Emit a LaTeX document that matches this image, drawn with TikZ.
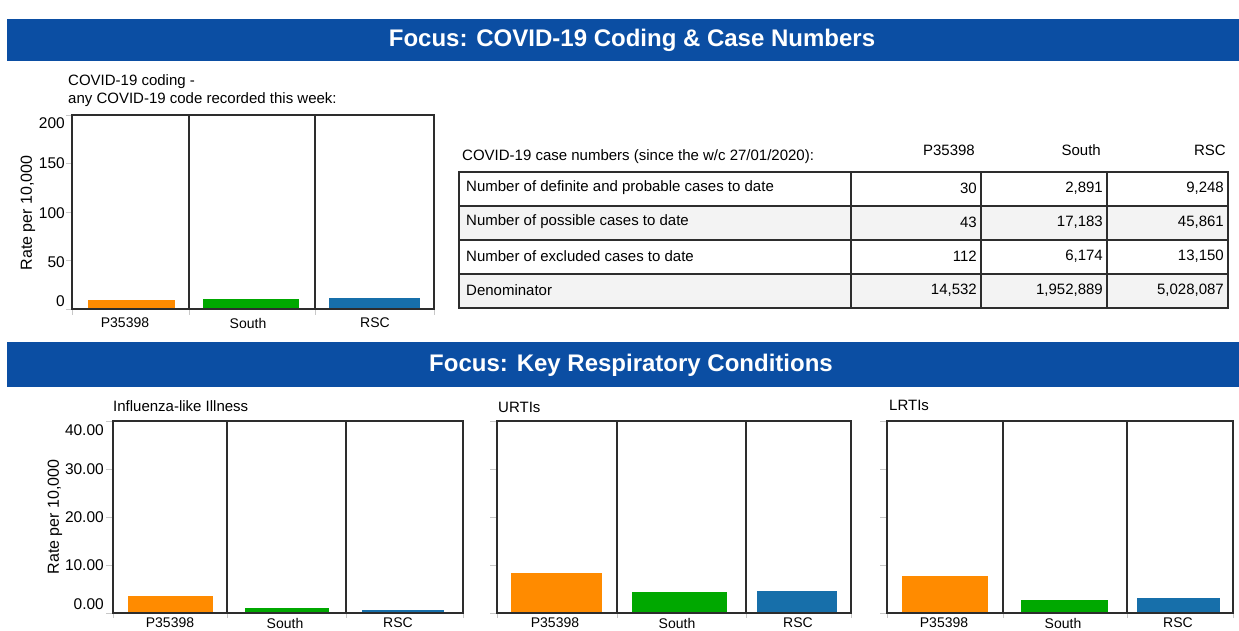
\documentclass[tikz,border=0pt]{standalone}
\usepackage{fontspec}
\setmainfont{Liberation Sans}
\definecolor{bannerblue}{RGB}{11,78,163}
\definecolor{barorange}{RGB}{255,139,0}
\definecolor{bargreen}{RGB}{0,168,0}
\definecolor{barblue}{RGB}{23,111,170}
\definecolor{framegray}{RGB}{45,45,45}
\definecolor{tickgray}{RGB}{200,200,200}
\definecolor{rowshade}{RGB}{243,243,243}
\newcommand\px[1]{\fontsize{#1}{#1}\selectfont}
\tikzset{
  banner/.style={fill=bannerblue},
  bantitle/.style={text=white, inner sep=0pt, font=\px{24}\bfseries},
  plotframe/.style={draw=framegray, line width=1.3pt},
  axtick/.style={draw=tickgray, line width=0.8pt},
  txt/.style={inner sep=0pt, font=\px{15}},
  ticklab/.style={inner sep=0pt, anchor=east, font=\px{15.5}},
  catlab/.style={inner sep=0pt, font=\px{14}},
  axtitle/.style={inner sep=0pt, rotate=90, font=\px{16}},
  tabline/.style={draw=framegray, line width=1.4pt},
  numcell/.style={inner sep=0pt, anchor=east, font=\px{15}}
}
\begin{document}
\begin{tikzpicture}[x=1pt,y=-1pt]
\useasboundingbox (0,0) rectangle (1239,630);

% ---------- section banners ----------
\fill[banner] (7,19) rectangle (1239,61);
\node[bantitle] (ban1) at (632,40) {Focus: COVID-19 Coding \& Case Numbers};
\fill[banner] (7,342) rectangle (1239,387);
\node[bantitle] (ban2) at (631,365) {Focus: Key Respiratory Conditions};

% ---------- COVID-19 coding chart ----------
\node[txt, anchor=west] (c1t1) at (68,82) {COVID-19 coding -};
\node[txt, anchor=west] (c1t2) at (68,100) {any COVID-19 code recorded this week:};
\foreach \y in {115,163.5,212,260.5,309} \draw[axtick] (66,\y) -- (72,\y);
\foreach \x in {72,189,315,434} \draw[axtick] (\x,309) -- (\x,315);
\fill[barorange] (88,300) rectangle (175,309);
\fill[bargreen] (203,299) rectangle (299,309);
\fill[barblue] (329,298) rectangle (420,309);
\draw[plotframe] (72,115) rectangle (434,309);
\draw[plotframe] (189,115) -- (189,309);
\draw[plotframe] (315,115) -- (315,309);
\node[ticklab] (c1y200) at (65,123) {200};
\node[ticklab] (c1y150) at (65,163) {150};
\node[ticklab] (c1y100) at (65,213) {100};
\node[ticklab] (c1y50) at (65,262) {50};
\node[ticklab] (c1y0) at (65,301) {0};
\node[axtitle] (c1ax) at (28,213) {Rate per 10,000};
\node[catlab] (c1a) at (125,323) {P35398};
\node[catlab] (c1b) at (248,323) {South};
\node[catlab] (c1c) at (375,323) {RSC};

% ---------- case numbers table ----------
\node[txt, anchor=west] (tabhead) at (462,157) {COVID-19 case numbers (since the w/c 27/01/2020):};
\node[txt, anchor=east] (colA) at (975,150) {P35398};
\node[txt, anchor=east] (colB) at (1101,150) {South};
\node[txt, anchor=east] (colC) at (1226,150) {RSC};
\fill[rowshade] (459,206) rectangle (1228,240);
\fill[rowshade] (459,274) rectangle (1228,308);
\draw[tabline] (459,172) rectangle (1228,308);
\foreach \y in {206,240,274} \draw[tabline] (459,\y) -- (1228,\y);
\foreach \x in {851,981,1107} \draw[tabline] (\x,172) -- (\x,308);
\node[txt, anchor=west] (r1) at (466,188) {Number of definite and probable cases to date};
\node[txt, anchor=west] (r2) at (466,222) {Number of possible cases to date};
\node[txt, anchor=west] (r3) at (466,256) {Number of excluded cases to date};
\node[txt, anchor=west] (r4) at (466,290) {Denominator};
\node[numcell] (r1a) at (977,188) {30};
\node[numcell] (r1b) at (1103,188) {2,891};
\node[numcell] (r1c) at (1224,188) {9,248};
\node[numcell] (r2a) at (977,222) {43};
\node[numcell] (r2b) at (1103,222) {17,183};
\node[numcell] (r2c) at (1224,222) {45,861};
\node[numcell] (r3a) at (977,256) {112};
\node[numcell] (r3b) at (1103,256) {6,174};
\node[numcell] (r3c) at (1224,256) {13,150};
\node[numcell] (r4a) at (977,290) {14,532};
\node[numcell] (r4b) at (1103,290) {1,952,889};
\node[numcell] (r4c) at (1224,290) {5,028,087};

% ---------- influenza-like illness chart ----------
\node[txt, anchor=west] (ilit) at (113,406) {Influenza-like Illness};
\foreach \y in {421,469,517,565,613} \draw[axtick] (106,\y) -- (113,\y);
\foreach \x in {113,227,346,463} \draw[axtick] (\x,613) -- (\x,618);
\fill[barorange] (128,596) rectangle (213,613);
\fill[bargreen] (245,608) rectangle (329,613);
\fill[barblue] (362,610) rectangle (444,613);
\draw[plotframe] (113,421) rectangle (463,613);
\draw[plotframe] (227,421) -- (227,613);
\draw[plotframe] (346,421) -- (346,613);
\node[ticklab] (iy40) at (104,430) {40.00};
\node[ticklab] (iy30) at (104,469) {30.00};
\node[ticklab] (iy20) at (104,517) {20.00};
\node[ticklab] (iy10) at (104,565) {10.00};
\node[ticklab] (iy0) at (104,604) {0.00};
\node[axtitle] (iax) at (55,517) {Rate per 10,000};
\node[catlab] (ia) at (170,623) {P35398};
\node[catlab] (ib) at (285,623) {South};
\node[catlab] (ic) at (398,623) {RSC};

% ---------- URTIs chart ----------
\node[txt, anchor=west] (urtit) at (498,407) {URTIs};
\foreach \y in {421,469,517,565,613} \draw[axtick] (490,\y) -- (497,\y);
\foreach \x in {497,617,746,851} \draw[axtick] (\x,613) -- (\x,618);
\fill[barorange] (511,573) rectangle (602,613);
\fill[bargreen] (632,592) rectangle (727,613);
\fill[barblue] (757,591) rectangle (837,613);
\draw[plotframe] (497,421) rectangle (851,613);
\draw[plotframe] (617,421) -- (617,613);
\draw[plotframe] (746,421) -- (746,613);
\node[catlab] (ua) at (555,623) {P35398};
\node[catlab] (ub) at (677,623) {South};
\node[catlab] (uc) at (798,623) {RSC};

% ---------- LRTIs chart ----------
\node[txt, anchor=west] (lrtit) at (889,405) {LRTIs};
\foreach \y in {421,469,517,565,613} \draw[axtick] (880,\y) -- (887,\y);
\foreach \x in {887,1003,1127,1233} \draw[axtick] (\x,613) -- (\x,618);
\fill[barorange] (902,576) rectangle (988,613);
\fill[bargreen] (1021,600) rectangle (1108,613);
\fill[barblue] (1137,598) rectangle (1220,613);
\draw[plotframe] (887,421) rectangle (1233,613);
\draw[plotframe] (1003,421) -- (1003,613);
\draw[plotframe] (1127,421) -- (1127,613);
\node[catlab] (la) at (944,623) {P35398};
\node[catlab] (lb) at (1063,623) {South};
\node[catlab] (lc) at (1178,623) {RSC};
\end{tikzpicture}
\end{document}
